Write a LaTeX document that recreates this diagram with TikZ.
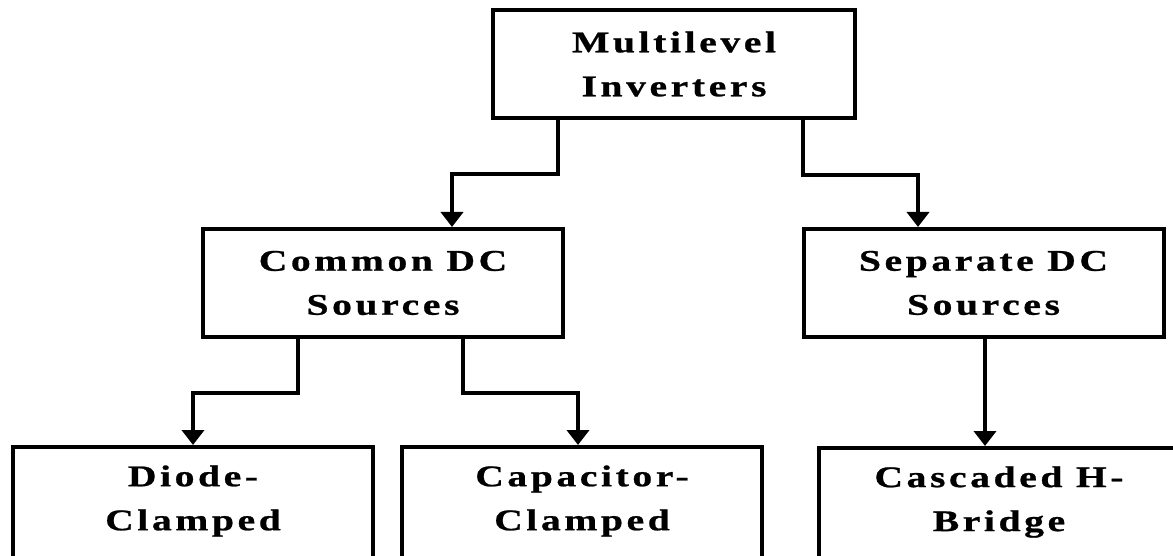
\documentclass[tikz,border=0pt]{standalone}
\usepackage{fontspec}
\newfontfamily\boxfont[LetterSpace=12,FakeStretch=1.32,FakeBold=0.8]{Liberation Serif}
\usetikzlibrary{arrows.meta}
\begin{document}
\begin{tikzpicture}[x=1pt,y=-1pt,
  box/.style={draw, line width=4pt, minimum width=360pt, minimum height=108pt,
    inner sep=0pt, align=center,
    font=\boxfont\bfseries\fontsize{30}{44}\selectfont},
  openbox/.style={box, draw=none, outer sep=0pt},
  frame/.style={draw, line width=4pt},
  link/.style={line width=3.8pt, -{Triangle[width=22pt,length=15pt]}}]
\useasboundingbox (0,0) rectangle (1173,556);
\fill[white] (0,0) rectangle (1173,556);
\clip (0,0) rectangle (1173,556);

% boxes
\node[box, minimum width=362pt] (top) at (674,64) {Multilevel\\Inverters};
\node[box] (common) at (383,283) {Common DC\\Sources};
\node[box] (separate) at (983.5,283) {Separate DC\\Sources};

% bottom row: frames run on past the lower edge of the page
\node[openbox] (diode) at (193,501) {Diode-\\Clamped};
\node[openbox] (capacitor) at (582,501) {Capacitor-\\Clamped};
\node[openbox] (cascaded) at (999,502) {Cascaded H-\\Bridge};
\foreach \n in {diode,capacitor,cascaded}
  \path[frame] (\n.north west) rectangle ([yshift=-30pt]\n.south east);

% connectors
\draw[link] ([xshift=-116pt]top.south) -- ++(0,54) -| ([xshift=69pt]common.north);
\draw[link] ([xshift=129pt]top.south) -- ++(0,55) -| ([xshift=-65.5pt]separate.north);
\draw[link] ([xshift=-85pt]common.south) -- ++(0,54) -| ([yshift=2pt]diode.north);
\draw[link] ([xshift=80pt]common.south) -- ++(0,54) -| ([xshift=-4pt,yshift=2pt]capacitor.north);
\draw[link] ([xshift=1.5pt]separate.south) -- ([xshift=-14pt,yshift=2pt]cascaded.north);
\end{tikzpicture}
\end{document}
